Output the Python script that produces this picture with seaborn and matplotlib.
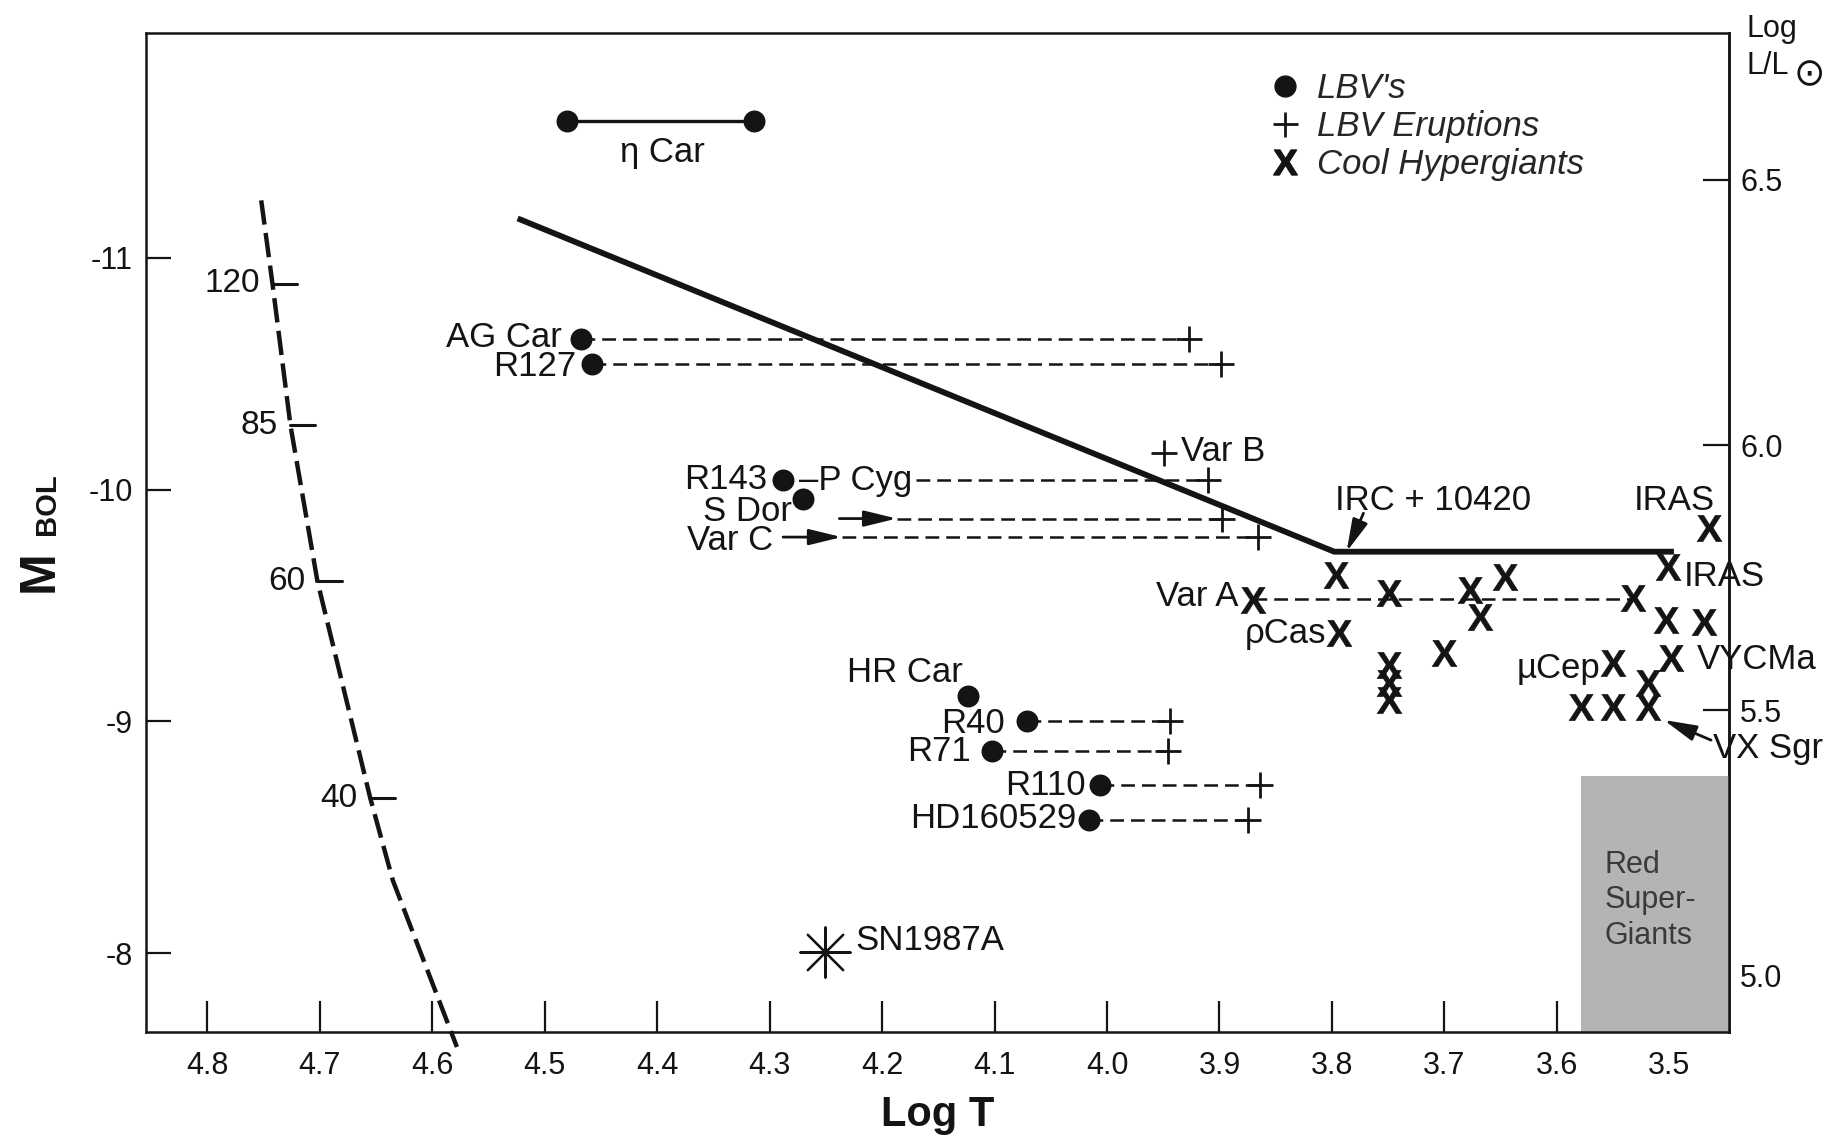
import numpy as np
import matplotlib
matplotlib.use("Agg")
import matplotlib.pyplot as plt
from matplotlib.lines import Line2D
from matplotlib.ticker import FixedLocator, FormatStrFormatter
import seaborn as sns

# ---------------- data ----------------
# Luminous blue variables in quiescence (filled circles)
lbv_names = ["AG Car", "R127", "R143", "S Dor", "HR Car", "R40", "R71", "R110", "HD160529"]
lbv_logT = [4.468, 4.458, 4.288, 4.270, 4.124, 4.071, 4.102, 4.006, 4.016]
lbv_mbol = [-10.65, -10.54, -10.04, -9.96, -9.11, -9.00, -8.87, -8.725, -8.575]

# eta Car: two temperature estimates joined by a bar
etacar_logT = [4.480, 4.314]
etacar_mbol = [-11.59, -11.59]

# LBV eruptions (plus signs) and hot end of each dashed excursion
erupt_names = ["AG Car", "R127", "P Cyg", "S Dor", "Var C", "Var B", "R40", "R71", "R110", "HD160529"]
erupt_logT = [3.927, 3.899, 3.910, 3.898, 3.866, 3.949, 3.944, 3.946, 3.864, 3.875]
erupt_mbol = [-10.65, -10.54, -10.04, -9.875, -9.795, -10.16, -9.00, -8.87, -8.725, -8.575]
excursion_from = [4.468, 4.458, 4.170, 4.187, 4.236, None, 4.071, 4.102, 4.006, 4.016]

# arrows for S Dor and Var C (hot positions off to the left)
sdor_arrow_logT = [4.238, 4.187]
varc_arrow_logT = [4.288, 4.236]

# cool hypergiants (X)
ch_logT = [3.465, 3.501, 3.796, 3.870, 3.749, 3.677, 3.668, 3.646, 3.532, 3.503,
           3.469, 3.794, 3.700, 3.749, 3.749, 3.749, 3.550, 3.499, 3.579, 3.550,
           3.519, 3.519]
ch_mbol = [-9.833, -9.667, -9.632, -9.523, -9.552, -9.567, -9.451, -9.624, -9.531, -9.437,
           -9.430, -9.380, -9.293, -9.243, -9.164, -9.092, -9.250, -9.272, -9.063, -9.063,
           -9.164, -9.063]
varA_track_logT = [3.870, 3.532]
varA_track_mbol = [-9.53, -9.53]

# Humphreys-Davidson upper luminosity boundary
hd_logT = [4.524, 3.798, 3.496]
hd_mbol = [-11.17, -9.732, -9.732]

# zero-age main sequence with initial masses (solar masses)
zams_logT = [4.752, 4.742, 4.726, 4.702, 4.655, 4.635, 4.578]
zams_mbol = [-11.248, -10.889, -10.277, -9.604, -8.668, -8.314, -7.595]
mass_values = [120, 85, 60, 40]
mass_logT = [4.742, 4.726, 4.702, 4.655]
mass_mbol = [-10.889, -10.277, -9.604, -8.668]

# SN 1987A progenitor
sn_logT = [4.251]
sn_mbol = [-8.006]

# red supergiant region
rsg_logT = [3.579, 3.447]
rsg_mbol_top = -8.764

# axes
logT_ticks = [4.8, 4.7, 4.6, 4.5, 4.4, 4.3, 4.2, 4.1, 4.0, 3.9, 3.8, 3.7, 3.6, 3.5]
mbol_ticks = [-11, -10, -9, -8]
logL_ticks = [5.0, 5.5, 6.0, 6.5]

# ---------------- style ----------------
sns.set_theme(style="white")
plt.rcParams["font.family"] = ["Liberation Sans", "DejaVu Sans"]
plt.rcParams["axes.unicode_minus"] = False
plt.rcParams["mathtext.fontset"] = "custom"
plt.rcParams["mathtext.rm"] = "Liberation Sans"
plt.rcParams["mathtext.bf"] = "Liberation Sans:bold"
plt.rcParams["mathtext.it"] = "Liberation Sans:italic"

INK = "#141414"
FS = 25

fig = plt.figure(figsize=(18.38, 11.43), dpi=100)
ax = fig.add_axes([0.0797, 0.0974, 0.8610, 0.8739])
ax.set_xlim(4.854, 3.447)
ax.set_ylim(-7.661, -11.971)
ymin_plot = ax.get_ylim()[0]

# red supergiant band
ax.fill_between(rsg_logT, [rsg_mbol_top] * 2, [ymin_plot] * 2,
                color="#b4b4b4", linewidth=0, zorder=1)
ax.text(3.558, -8.228, "Red\nSuper-\nGiants", ha="left", va="center",
        fontsize=22, color="#3a3a3a", linespacing=1.25, zorder=2)

# ZAMS track
ax.plot(zams_logT, zams_mbol, color=INK, lw=3.2, ls=(0, (5.5, 1.9)),
        dash_capstyle="butt", clip_on=False, zorder=3)
for m, lt, mb in zip(mass_values, mass_logT, mass_mbol):
    ax.plot([lt, lt - 0.022], [mb, mb], color=INK, lw=2.2, zorder=3)
    ax.annotate(str(m), (lt, mb), xytext=(-9, 0), textcoords="offset points",
                ha="right", va="center", fontsize=24, color=INK)

# Humphreys-Davidson limit
ax.plot(hd_logT, hd_mbol, color=INK, lw=4.2, solid_capstyle="butt", zorder=3)

# eta Car bar
ax.plot(etacar_logT, etacar_mbol, color=INK, lw=2.4, zorder=3)

# dashed LBV excursions
dash = (0, (5.5, 2.8))
for start, end, mb in zip(excursion_from, erupt_logT, erupt_mbol):
    if start is None:
        continue
    ax.plot([start, end], [mb, mb], color=INK, lw=1.8, ls=dash, zorder=3)
ax.plot(varA_track_logT, varA_track_mbol, color=INK, lw=1.8, ls=dash, zorder=3)

# markers
sns.scatterplot(x=lbv_logT, y=lbv_mbol, marker="o", s=250, color=INK,
                edgecolor=INK, linewidth=0, ax=ax, zorder=5, legend=False)
sns.scatterplot(x=etacar_logT, y=etacar_mbol, marker="o", s=250, color=INK,
                edgecolor=INK, linewidth=0, ax=ax, zorder=5, legend=False)
sns.scatterplot(x=erupt_logT, y=erupt_mbol, marker="+", s=340, color=INK,
                linewidth=2.0, ax=ax, zorder=5, legend=False)
sns.scatterplot(x=ch_logT, y=ch_mbol, marker=r"$\mathbf{X}$", s=360, color=INK,
                edgecolor=INK, linewidth=0.4, ax=ax, zorder=5, legend=False)
sns.scatterplot(x=sn_logT, y=sn_mbol, marker=(8, 2, 0), s=1300, color=INK,
                linewidth=1.6, ax=ax, zorder=5, legend=False)

# arrows
arrow_kw = dict(arrowstyle="-|>,head_length=0.9,head_width=0.22", lw=2.0,
                color=INK, shrinkA=0, shrinkB=0, mutation_scale=22)
ax.annotate("", xy=(sdor_arrow_logT[1], erupt_mbol[3]),
            xytext=(sdor_arrow_logT[0], erupt_mbol[3]), arrowprops=arrow_kw)
ax.annotate("", xy=(varc_arrow_logT[1], erupt_mbol[4]),
            xytext=(varc_arrow_logT[0], erupt_mbol[4]), arrowprops=arrow_kw)
ax.annotate("", xy=(3.787, -9.732), xytext=(3.772, -9.898), arrowprops=arrow_kw)
ax.annotate("", xy=(3.505, -9.006), xytext=(3.463, -8.919), arrowprops=arrow_kw)

# star labels
star_labels = [
    ("η Car", 4.395, -11.455, "center"),
    ("AG Car", 4.485, -10.655, "right"),
    ("R127", 4.472, -10.530, "right"),
    ("R143", 4.302, -10.042, "right"),
    ("–P Cyg", 4.274, -10.039, "left"),
    ("S Dor", 4.280, -9.905, "right"),
    ("Var C", 4.297, -9.780, "right"),
    ("Var B", 3.934, -10.164, "left"),
    ("HR Car", 4.180, -9.209, "center"),
    ("R40", 4.091, -8.992, "right"),
    ("R71", 4.121, -8.869, "right"),
    ("R110", 4.019, -8.725, "right"),
    ("HD160529", 4.027, -8.580, "right"),
    ("SN1987A", 4.224, -8.056, "left"),
    ("Var A", 3.883, -9.538, "right"),
    ("ρCas", 3.805, -9.381, "right"),
    ("IRC + 10420", 3.710, -9.955, "center"),
    ("IRAS", 3.496, -9.955, "center"),
    ("IRAS", 3.487, -9.624, "left"),
    ("µCep", 3.561, -9.229, "right"),
    ("VYCMa", 3.476, -9.265, "left"),
    ("VX Sgr", 3.461, -8.883, "left"),
]
for text, lt, mb, ha in star_labels:
    ax.text(lt, mb, text, ha=ha, va="center", fontsize=FS, color=INK,
            zorder=6, clip_on=False)

# legend
handles = [
    Line2D([], [], marker="o", ls="", color=INK, ms=15),
    Line2D([], [], marker="+", ls="", color=INK, ms=18, mew=2),
    Line2D([], [], marker=r"$\mathbf{X}$", ls="", color=INK, ms=18),
]
ax.legend(handles, ["LBV's", "LBV Eruptions", "Cool Hypergiants"],
          loc="upper left", bbox_to_anchor=(0.709, 0.961), frameon=False,
          prop={"style": "italic", "size": FS}, handlelength=0.95,
          handletextpad=0.45, labelspacing=0.15, borderpad=0, borderaxespad=0)

# axes styling
for sp in ax.spines.values():
    sp.set_visible(True)
    sp.set_color(INK)
    sp.set_linewidth(1.8)

ax.xaxis.set_major_locator(FixedLocator(logT_ticks))
ax.xaxis.set_major_formatter(FormatStrFormatter("%.1f"))
ax.yaxis.set_major_locator(FixedLocator(mbol_ticks))
ax.yaxis.set_major_formatter(FormatStrFormatter("%d"))
ax.tick_params(axis="x", direction="in", length=22, width=1.6, labelsize=22,
               pad=14, bottom=True, top=False, colors=INK)
ax.tick_params(axis="y", direction="in", length=18, width=1.6, labelsize=22,
               pad=10, left=True, right=False, colors=INK)
ax.set_xlabel("Log T", fontsize=30, fontweight="bold", labelpad=10, color=INK)
ax.set_ylabel("")
ax.grid(False)


def mbol_to_logL(m):
    return 6.5 - (np.asarray(m, dtype=float) + 11.336) / 2.2882


def logL_to_mbol(l):
    return -11.336 + 2.2882 * (6.5 - np.asarray(l, dtype=float))


secax = ax.secondary_yaxis("right", functions=(mbol_to_logL, logL_to_mbol))
secax.yaxis.set_major_locator(FixedLocator(logL_ticks))
secax.yaxis.set_major_formatter(FormatStrFormatter("%.1f"))
secax.tick_params(direction="in", length=19, width=1.6, labelsize=22, pad=8,
                  colors=INK, right=True)
secax.spines["right"].set_linewidth(1.8)
secax.spines["right"].set_color(INK)

# right axis title: Log L/L(sun)
ax.text(1.011, 0.985, "Log\nL/L", transform=ax.transAxes,
        ha="left", va="center", fontsize=22, linespacing=1.3, color=INK)
ax.text(1.0505, 0.958, "⊙", transform=ax.transAxes, ha="center", va="center",
        fontsize=27, color=INK, family=["DejaVu Sans"])

# left axis title: large M with smaller BOL
fig.text(0.0217, 0.5005, "M", rotation=90, ha="center", va="center",
         fontsize=36, fontweight="bold", color=INK)
fig.text(0.0255, 0.559, "BOL", rotation=90, ha="center", va="center",
         fontsize=21, fontweight="bold", color=INK)

fig.savefig("out.png", dpi=100, facecolor="white")
